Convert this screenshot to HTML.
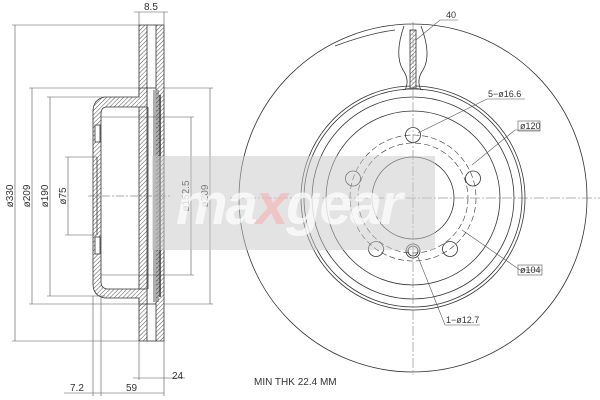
<!DOCTYPE html>
<html><head><style>
html,body{margin:0;padding:0;background:#fff;width:600px;height:400px;overflow:hidden}
svg{display:block}
text{font-family:"Liberation Sans",sans-serif;fill:#333}
</style></head><body>
<svg width="600" height="400" viewBox="0 0 600 400" xmlns="http://www.w3.org/2000/svg">
<defs>
<pattern id="h" width="3" height="3" patternUnits="userSpaceOnUse" patternTransform="rotate(45)">
<rect width="3" height="3" fill="#fff"/><line x1="0" y1="0" x2="0" y2="3" stroke="#555" stroke-width="1"/>
</pattern>
</defs>
<g stroke="#333" stroke-width="0.8" fill="none">
<path d="M139 25 H147 V341 H139 Z" fill="url(#h)"/>
<path d="M156 25 H164 V341 H156 Z" fill="url(#h)"/>
<line x1="147" y1="25" x2="156" y2="25"/><line x1="147" y1="341" x2="156" y2="341"/>
<line x1="147" y1="88" x2="156" y2="88"/><line x1="147" y1="304" x2="156" y2="304"/>
<path d="M139 88 L139 97 L105 97 Q93 99 93 112 L93 284 Q93 296 105 298 L139 298 L139 304 L147 304 L147 289 L107 289 Q101 288 101 282 L101 114 Q101 107 107 107 L147 107 L147 88 Z" fill="url(#h)"/>
<rect x="95" y="125" width="5" height="17" fill="#fff"/>
<rect x="95" y="237" width="5" height="17" fill="#fff"/>
<line x1="97" y1="157" x2="97" y2="235"/>
<line x1="148" y1="107" x2="148" y2="289"/>
<line x1="154" y1="90" x2="154" y2="302"/>
<line x1="158" y1="90" x2="158" y2="302"/>
<line x1="160" y1="95" x2="160" y2="297" stroke-width="1.5"/>
<g stroke="#555" stroke-width="0.6">
<line x1="12" y1="25" x2="139" y2="25"/><line x1="12" y1="341" x2="139" y2="341"/>
<line x1="15" y1="25" x2="15" y2="341"/>
<line x1="29" y1="88" x2="139" y2="88"/><line x1="29" y1="304" x2="139" y2="304"/>
<line x1="32" y1="88" x2="32" y2="304"/>
<line x1="47" y1="97" x2="105" y2="97"/><line x1="47" y1="296" x2="105" y2="296"/>
<line x1="50" y1="97" x2="50" y2="296"/>
<line x1="65" y1="157" x2="97" y2="157"/><line x1="65" y1="235" x2="97" y2="235"/>
<line x1="68" y1="157" x2="68" y2="235"/>
<line x1="101" y1="117" x2="194" y2="117"/><line x1="101" y1="275" x2="194" y2="275"/>
<line x1="191" y1="117" x2="191" y2="275"/>
<line x1="164" y1="88" x2="213" y2="88"/><line x1="164" y1="304" x2="213" y2="304"/>
<line x1="210" y1="88" x2="210" y2="304"/>
<line x1="88" y1="196" x2="170" y2="196" stroke-dasharray="8,2,2,2"/>
<line x1="139" y1="12" x2="139" y2="25"/><line x1="164" y1="12" x2="164" y2="25"/>
<line x1="134" y1="12" x2="168" y2="12"/>
<line x1="93" y1="296" x2="93" y2="396"/><line x1="101" y1="296" x2="101" y2="396"/>
<line x1="164" y1="341" x2="164" y2="396"/><line x1="139" y1="341" x2="139" y2="380"/>
<line x1="64" y1="393" x2="164" y2="393"/>
<line x1="133" y1="378" x2="185" y2="378"/>
</g>
</g>
<g font-size="10">
<text x="144" y="10">8.5</text>
<text x="70" y="391">7.2</text>
<text x="126" y="391">59</text>
<text x="172" y="379">24</text>
<text transform="translate(13,196) rotate(-90)" text-anchor="middle">ø330</text>
<text transform="translate(30,196) rotate(-90)" text-anchor="middle">ø209</text>
<text transform="translate(48,196) rotate(-90)" text-anchor="middle">ø190</text>
<text transform="translate(66,196) rotate(-90)" text-anchor="middle">ø75</text>
<text transform="translate(189,196) rotate(-90)" text-anchor="middle">ø152.5</text>
<text transform="translate(208,196) rotate(-90)" text-anchor="middle">ø209</text>
</g>
<g stroke="#333" stroke-width="0.8" fill="none">
<circle cx="413" cy="198" r="174"/>
<path d="M335 46 Q370 33 395 30"/>
<circle cx="413" cy="198" r="112"/>
<circle cx="413" cy="198" r="109"/>
<circle cx="413" cy="198" r="101"/>
<circle cx="413" cy="198" r="87"/>
<circle cx="413" cy="198" r="41"/>
<circle cx="413" cy="198" r="63" stroke-dasharray="6,3" stroke-width="0.6"/>
<circle cx="413" cy="198" r="55" stroke-dasharray="6,3" stroke-width="0.6"/>
<g>
<circle cx="413" cy="135" r="7.5"/>
<circle cx="473" cy="178.5" r="7.5"/>
<circle cx="450" cy="249" r="7.5"/>
<circle cx="376" cy="249" r="7.5"/>
<circle cx="353" cy="178.5" r="7.5"/>
<circle cx="413" cy="251" r="7"/><circle cx="413" cy="251" r="5"/>
</g>
<path d="M404 26 Q394 55 403 70 Q410 80 405 90 M421 26 Q432 55 423 70 Q416 80 421 90"/>
<path d="M403 90 Q413 86 423 90" stroke-width="0.6"/>
<rect x="410" y="30" width="6" height="58" fill="url(#h)"/>
<g stroke="#666" stroke-width="0.5" stroke-dasharray="10,2,2,2">
<line x1="230" y1="198" x2="600" y2="198"/>
<line x1="413" y1="22" x2="413" y2="375"/>
</g>
<g stroke="#555" stroke-width="0.6">
<path d="M416 40 L440 20 H458"/>
<path d="M418 133 L487 99 H525"/>
<path d="M472 165 L515 130 H540"/>
<path d="M462 230 L520 270 H542"/>
<path d="M418 257 L445 325 H480"/>
<rect x="518" y="121" width="22" height="10"/>
<rect x="518" y="265" width="24" height="10"/>
</g>
</g>
<g font-size="9">
<text x="446" y="18">40</text>
<text x="488" y="97">5−ø16.6</text>
<text x="520" y="129">ø120</text>
<text x="520" y="273">ø104</text>
<text x="446" y="323">1−ø12.7</text>
<text x="254" y="385" font-size="10">MIN THK 22.4 MM</text>
</g>
<rect x="152" y="156" width="283" height="94" fill="#c8c8c8" fill-opacity="0.5"/>
<text x="176" y="224" font-size="58" font-style="italic" font-weight="bold" style="fill:#fff;fill-opacity:0.7" letter-spacing="-2">ma<tspan style="fill:#f4b6b6">x</tspan>gear</text>
</svg>
</body></html>
